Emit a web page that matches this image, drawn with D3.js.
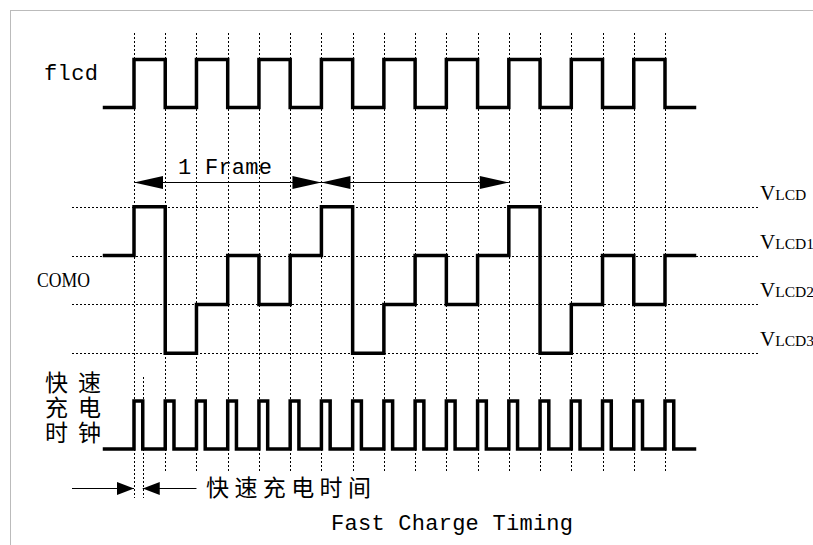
<!DOCTYPE html>
<html><head><meta charset="utf-8">
<script src="https://cdn.jsdelivr.net/npm/d3@7"></script>
<style>html,body{margin:0;padding:0;background:#fff;overflow:hidden}</style>
</head><body>
<script>
// ---- data ----
const gridTicks = d3.range(0, 18);                 // clock edges (grid units)
const flcdLevels = [0,1,0,1,0,1,0,1,0,1,0,1,0,1,0,1,0,1,0]; // per interval [i-1,i]
const comoLevels = [1,0,3,2,1,2,1,0,3,2,1,2,1,0,3,2,1,2,1];  // 0=VLCD .. 3=VLCD3
const levelLabels = ["LCD","LCD1","LCD2","LCD3"];
const fastPulseStarts = d3.range(0, 18);
const fastPulseWidth = 0.28;
const frames = [[0,6],[6,12]];
const frameLabel = "1 Frame";
const signalNames = ["flcd","COMO"];
const fastClockLabel = ["快速","充电","时钟"];
const fastTimeLabel = "快速充电时间";
const title = "Fast Charge Timing";

const W = 813, H = 545;
const svg = d3.select("body").append("svg").attr("width", W).attr("height", H);

const x = d3.scaleLinear().domain([0, 17]).range([134, 665]);
const yLevel = d3.scaleLinear().domain([0, 3]).range([206.7, 353.3]);
const yFlcd = d3.scaleLinear().domain([0, 1]).range([107.5, 59.5]);
const yFast = d3.scaleLinear().domain([0, 1]).range([449, 401]);

// border
svg.append("rect").attr("x",10.5).attr("y",10.5).attr("width",W).attr("height",H)
  .attr("fill","none").attr("stroke","#777").attr("stroke-width",1).attr("stroke-dasharray","1,1");

// vertical grid lines
svg.append("g").selectAll("line").data(gridTicks).join("line")
  .attr("x1", d => Math.round(x(d)) + 0.5).attr("x2", d => Math.round(x(d)) + 0.5)
  .attr("y1", 33).attr("y2", d => d === 0 ? 498 : 473)
  .attr("stroke","#000").attr("stroke-width",1).attr("stroke-dasharray","2,2");
// fast-charge end marker line
svg.append("line").attr("x1", Math.round(x(fastPulseWidth))+0.5).attr("x2", Math.round(x(fastPulseWidth))+0.5)
  .attr("y1", 377).attr("y2", 498)
  .attr("stroke","#000").attr("stroke-width",1).attr("stroke-dasharray","2,2");

// horizontal level lines
svg.append("g").selectAll("line").data(levelLabels).join("line")
  .attr("x1", 72).attr("x2", 758)
  .attr("y1", (d,i) => Math.round(yLevel(i))+0.5).attr("y2", (d,i) => Math.round(yLevel(i))+0.5)
  .attr("stroke","#000").attr("stroke-width",1).attr("stroke-dasharray","2,2");

// step waveform helper
function stepPoints(levels, yScale) {
  const pts = [];
  levels.forEach((v, i) => { pts.push([x(i-1), yScale(v)]); pts.push([x(i), yScale(v)]); });
  return pts;
}
const line = d3.line();
const waveStyle = g => g.attr("fill","none").attr("stroke","#000").attr("stroke-width",3.5)
  .attr("stroke-linejoin","miter").attr("stroke-linecap","butt");

svg.append("path").attr("d", line(stepPoints(flcdLevels, yFlcd))).call(waveStyle);
svg.append("path").attr("d", line(stepPoints(comoLevels, yLevel))).call(waveStyle);

// fast clock
const fastPts = [[x(-1), yFast(0)]];
fastPulseStarts.forEach(t => {
  fastPts.push([x(t), yFast(0)], [x(t), yFast(1)], [x(t+fastPulseWidth), yFast(1)], [x(t+fastPulseWidth), yFast(0)]);
});
fastPts.push([x(18), yFast(0)]);
svg.append("path").attr("d", line(fastPts)).call(waveStyle);

// arrows
function arrowHead(tipX, y, dir, len = 29, half = 6.5) {
  svg.append("path").attr("d", line([[tipX, y], [tipX - dir*len, y - half], [tipX - dir*len, y + half]]) + "Z")
    .attr("fill","#000");
}
const fy = 182.5;
frames.forEach(([a,b]) => {
  svg.append("line").attr("x1", x(a)).attr("x2", x(b)).attr("y1", fy).attr("y2", fy)
    .attr("stroke","#000").attr("stroke-width",1);
  arrowHead(x(a), fy, -1);
  arrowHead(x(b), fy, 1);
});
// fast-charge time arrows
const ay = 488.5;
svg.append("line").attr("x1",72).attr("x2",x(0)).attr("y1",ay).attr("y2",ay).attr("stroke","#000");
arrowHead(x(0), ay, 1, 17, 6.5);
svg.append("line").attr("x1",x(fastPulseWidth)).attr("x2",x(2)).attr("y1",ay).attr("y2",ay).attr("stroke","#000");
arrowHead(x(fastPulseWidth), ay, -1, 17, 6.5);

// texts
const serif = "'Liberation Serif', 'DejaVu Serif', serif";
const mono = "'Liberation Mono', 'DejaVu Sans Mono', monospace";
const cjk = "'Noto Sans CJK SC', sans-serif";
function txt(s, xx, yy, size, len, font = serif, adj = "spacing") {
  const t = svg.append("text").attr("x", xx).attr("y", yy).attr("font-family", font)
    .attr("font-size", size).attr("fill","#000").text(s);
  if (len) t.attr("textLength", len).attr("lengthAdjust", adj);
  return t;
}
txt(signalNames[0], 44, 80, 22, 54, mono);
txt(signalNames[1], 37, 287, 21, 53, serif, "spacingAndGlyphs");
txt(frameLabel, 178, 174, 22, 94, mono);
levelLabels.forEach((l, i) => {
  const t = svg.append("text").attr("x", 760).attr("y", Math.round(yLevel(i)) - 7)
    .attr("font-family", serif).attr("fill","#000");
  t.append("tspan").attr("font-size", 21).text("V");
  t.append("tspan").attr("font-size", 15.5).text(l);
});
const fcl = svg.append("text").attr("font-family", cjk).attr("font-size", 23).attr("fill","#000");
fastClockLabel.forEach((s, i) => fcl.append("tspan").attr("x", 45).attr("y", 391 + i*25)
  .attr("textLength", 56).attr("lengthAdjust","spacing").text(s));
txt(fastTimeLabel, 206, 496, 23, 165, cjk);
txt(title, 331, 530, 22, 242, mono);
</script>
</body></html>
